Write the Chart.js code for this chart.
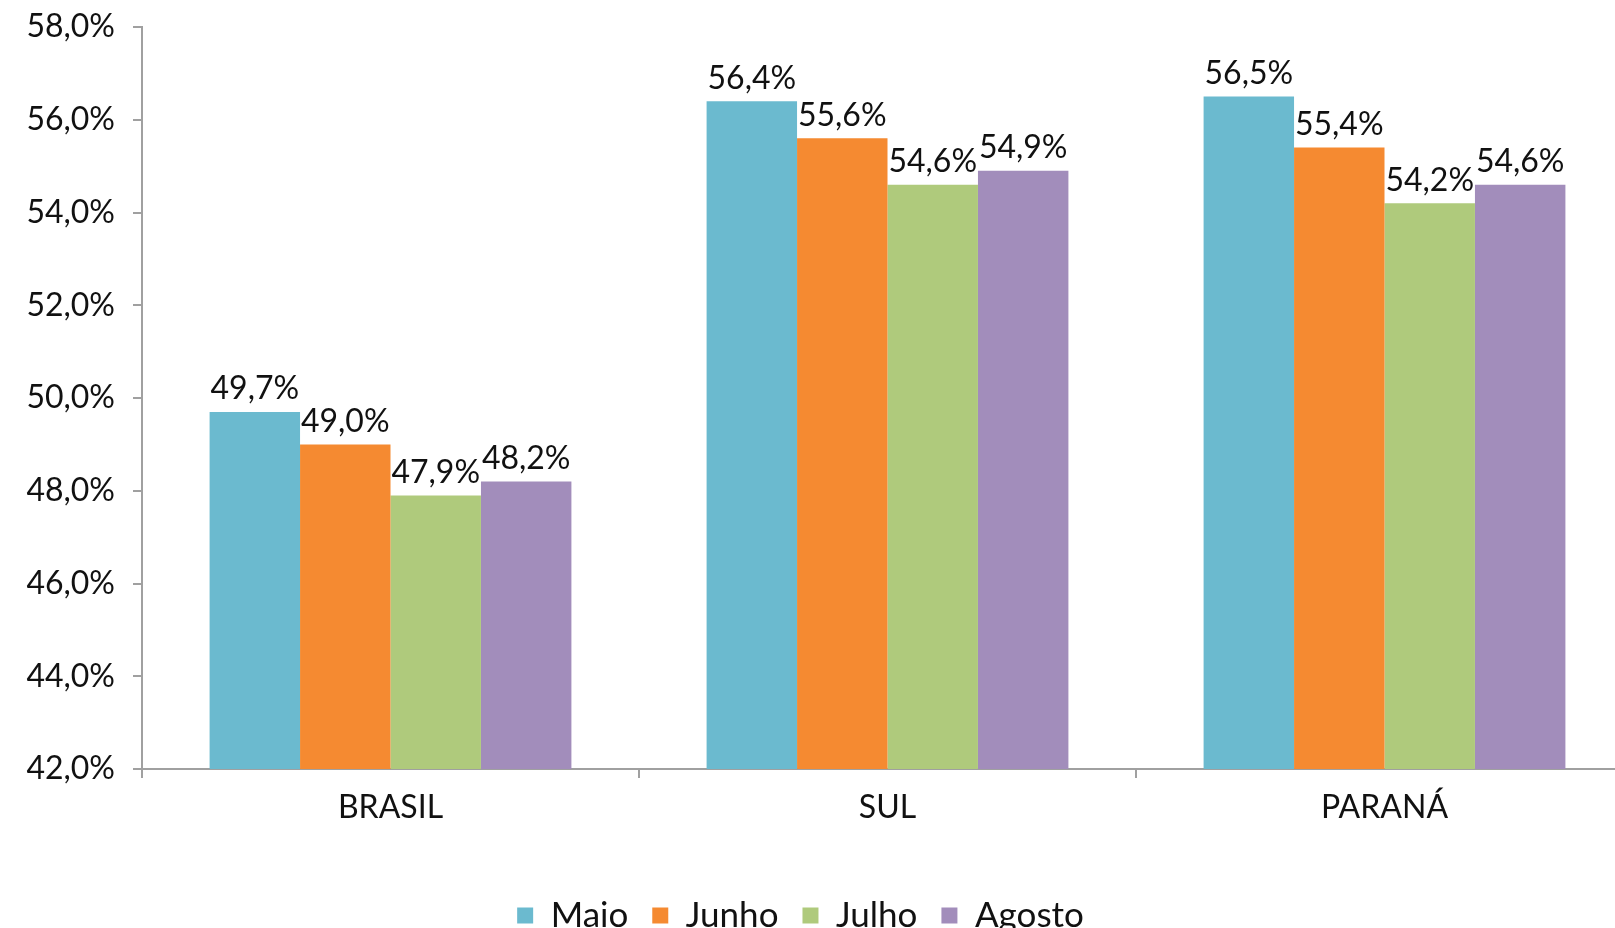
<!DOCTYPE html>
<html>
<head>
<meta charset="utf-8">
<script src="https://cdn.jsdelivr.net/npm/chart.js@4.4.1/dist/chart.umd.min.js"></script>
<style>
    html, body { margin: 0; padding: 0; background: #fff; overflow: hidden; }
    .chart-box { width: 1633px; height: 928px; }
</style>
</head>
<body>
<div class="chart-box"><canvas id="ocupacaoChart"></canvas></div>
<script>
// Data
const categories = ['BRASIL', 'SUL', 'PARANÁ'];
const months = ['Maio', 'Junho', 'Julho', 'Agosto'];
const maio = [49.7, 56.4, 56.5];
const junho = [49.0, 55.6, 55.4];
const julho = [47.9, 54.6, 54.2];
const agosto = [48.2, 54.9, 54.6];
const colors = ['#6bbacf', '#f58a31', '#afca7c', '#a28dbb'];

const FONT = { family: 'Lato, sans-serif', size: 32 };
const LEGEND_FONT = { family: 'Lato, sans-serif', size: 35 };
const AXIS_GREY = '#a0a0a0';

function pct(v) {
    return v.toFixed(1).replace('.', ',') + '%';
}

// Value labels over each bar
const valueLabels = {
    id: 'valueLabels',
    afterDatasetsDraw(chart) {
        const ctx = chart.ctx;
        ctx.save();
        ctx.font = FONT.size + 'px ' + FONT.family;
        ctx.fillStyle = '#111';
        ctx.textAlign = 'center';
        ctx.textBaseline = 'bottom';
        chart.data.datasets.forEach((ds, i) => {
            chart.getDatasetMeta(i).data.forEach((bar, j) => {
                ctx.fillText(pct(ds.data[j]), bar.x, bar.y - 7);
            });
        });
        ctx.restore();
    }
};

// Legend sits a bit left of centre and low in the original
const legendShift = {
    id: 'legendShift',
    afterLayout(chart) {
        const lg = chart.legend;
        lg.left -= 16;
        lg.right -= 16;
        lg.top += 15;
        lg.bottom += 15;
    }
};

const series = [maio, junho, julho, agosto];

new Chart(document.getElementById('ocupacaoChart'), {
    type: 'bar',
    data: {
        labels: categories,
        datasets: series.map((data, i) => ({
            label: months[i],
            data: data,
            backgroundColor: colors[i],
            categoryPercentage: 0.728,
            barPercentage: 1
        }))
    },
    options: {
        responsive: true,
        maintainAspectRatio: false,
        animation: false,
        layout: { padding: { top: 27, right: 0, left: 0, bottom: 0 } },
        scales: {
            x: {
                grid: { drawOnChartArea: false, tickLength: 9, color: AXIS_GREY, lineWidth: 2 },
                border: { color: AXIS_GREY, width: 2 },
                ticks: { color: '#111', font: FONT, padding: 10 },
                afterFit(scale) { scale.height = 90; }
            },
            y: {
                min: 42,
                max: 58,
                grid: { drawOnChartArea: false, tickLength: 9, color: AXIS_GREY, lineWidth: 2 },
                border: { color: AXIS_GREY, width: 2 },
                ticks: { stepSize: 2, color: '#111', font: FONT, padding: 18, callback: v => pct(v) },
                afterFit(scale) {
                    scale.width = 142;
                    scale.paddingTop = 0;
                    scale.paddingBottom = 0;
                }
            }
        },
        plugins: {
            legend: {
                position: 'bottom',
                labels: { boxWidth: 16, boxHeight: 16, padding: 24, color: '#111', font: LEGEND_FONT }
            },
            tooltip: { enabled: false }
        }
    },
    plugins: [valueLabels, legendShift]
});
</script>
</body>
</html>
